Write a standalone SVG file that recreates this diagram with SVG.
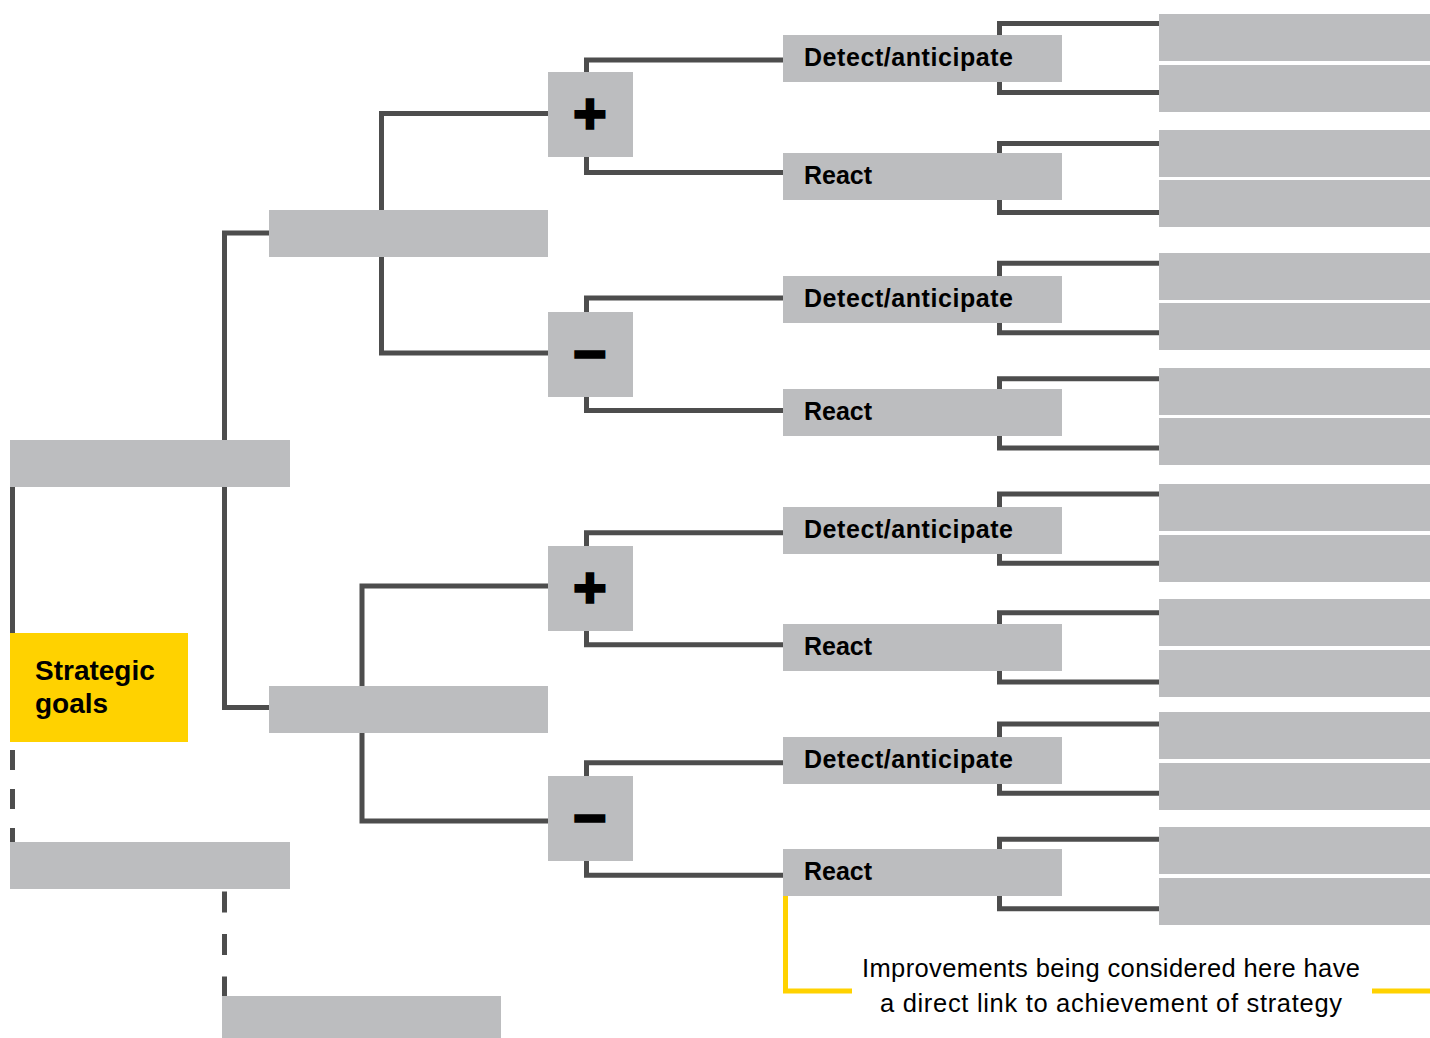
<svg xmlns="http://www.w3.org/2000/svg" width="1430" height="1038" viewBox="0 0 1430 1038">
<style>
.box{fill:#bcbdbf}
.goal{fill:#ffd200}
.ln{fill:none;stroke:#4d4d4d;stroke-width:5;stroke-linecap:butt;stroke-linejoin:miter}
.dash1{stroke-dasharray:20 19}
.dash2{stroke-dasharray:21 21.5}
.ann{fill:none;stroke:#ffd200;stroke-width:5}
.lbl{font-family:"Liberation Sans",Arial,sans-serif;font-weight:bold;font-size:25px;fill:#000}
.goalt{font-family:"Liberation Sans",Arial,sans-serif;font-weight:bold;font-size:28px;fill:#000}
.sign{font-family:"DejaVu Sans",sans-serif;font-weight:bold;font-size:44px;fill:#000;stroke:#000;stroke-width:3.5;text-anchor:middle}
.note{font-family:"Liberation Sans",Arial,sans-serif;font-size:25.5px;fill:#000;text-anchor:middle}
</style>
<rect width="1430" height="1038" fill="#fff"/>
<g id="connectors">
<path class="ln" d="M269 233 H224.5 V707.5 H269"/>
<path class="ln" d="M12.5 487 V633"/>
<path class="ln dash1" d="M12.5 750 V842"/>
<path class="ln dash2" d="M224.5 891.5 V996"/>
<path class="ln" d="M548 113.5 H381.5 V353 H548"/>
<path class="ln" d="M548 586 H362 V821 H548"/>
<path class="ln" d="M783 60 H586.5 V72 M783 172.5 H586.5 V157"/>
<path class="ln" d="M783 298 H586.5 V312 M783 410.5 H586.5 V397"/>
<path class="ln" d="M783 532.7 H586.5 V546 M783 644.7 H586.5 V631"/>
<path class="ln" d="M783 762.7 H586.5 V776 M783 875.3 H586.5 V861"/>
<path class="ln" d="M1159 23.5 H999.5 V92.5 H1159"/>
<path class="ln" d="M1159 143.5 H999.5 V212.5 H1159"/>
<path class="ln" d="M1159 263.3 H999.5 V332.7 H1159"/>
<path class="ln" d="M1159 378.7 H999.5 V448 H1159"/>
<path class="ln" d="M1159 494 H999.5 V563.3 H1159"/>
<path class="ln" d="M1159 612.7 H999.5 V682 H1159"/>
<path class="ln" d="M1159 724 H999.5 V793.3 H1159"/>
<path class="ln" d="M1159 839.3 H999.5 V908.7 H1159"/>
<path class="ann" d="M785.5 896 V991 H852 M1372 991 H1430"/>
</g>
<g id="node-a"><rect class="box" x="10" y="440" width="280" height="47"/></g>
<g id="node-strategic-goals"><rect class="goal" x="10" y="633" width="178" height="109"/>
<text class="goalt" x="35" y="680">Strategic</text><text class="goalt" x="35" y="713">goals</text></g>
<g id="node-c"><rect class="box" x="10" y="842" width="280" height="47"/></g>
<g id="node-d"><rect class="box" x="222" y="996" width="279" height="42"/></g>
<g id="node-b1"><rect class="box" x="269" y="210" width="279" height="47"/></g>
<g id="node-b2"><rect class="box" x="269" y="686" width="279" height="47"/></g>
<g id="node-plus1"><rect class="box" x="548" y="72" width="85" height="85"/><text class="sign" x="590" y="128">+</text></g>
<g id="node-minus1"><rect class="box" x="548" y="312" width="85" height="85"/><text class="sign" x="590" y="368">−</text></g>
<g id="node-plus2"><rect class="box" x="548" y="546" width="85" height="85"/><text class="sign" x="590" y="602">+</text></g>
<g id="node-minus2"><rect class="box" x="548" y="776" width="85" height="85"/><text class="sign" x="590" y="832">−</text></g>
<g id="node-detect1"><rect class="box" x="783" y="35" width="279" height="47"/><text class="lbl" x="804" y="66" textLength="209" lengthAdjust="spacing">Detect/anticipate</text></g>
<g id="node-react1"><rect class="box" x="783" y="153" width="279" height="47"/><text class="lbl" x="804" y="184">React</text></g>
<g id="node-detect2"><rect class="box" x="783" y="276" width="279" height="47"/><text class="lbl" x="804" y="307" textLength="209" lengthAdjust="spacing">Detect/anticipate</text></g>
<g id="node-react2"><rect class="box" x="783" y="389" width="279" height="47"/><text class="lbl" x="804" y="420">React</text></g>
<g id="node-detect3"><rect class="box" x="783" y="507" width="279" height="47"/><text class="lbl" x="804" y="538" textLength="209" lengthAdjust="spacing">Detect/anticipate</text></g>
<g id="node-react3"><rect class="box" x="783" y="624" width="279" height="47"/><text class="lbl" x="804" y="655">React</text></g>
<g id="node-detect4"><rect class="box" x="783" y="737" width="279" height="47"/><text class="lbl" x="804" y="768" textLength="209" lengthAdjust="spacing">Detect/anticipate</text></g>
<g id="node-react4"><rect class="box" x="783" y="849" width="279" height="47"/><text class="lbl" x="804" y="880">React</text></g>
<g id="node-r1a"><rect class="box" x="1159" y="14" width="271" height="47"/></g>
<g id="node-r1b"><rect class="box" x="1159" y="65" width="271" height="47"/></g>
<g id="node-r2a"><rect class="box" x="1159" y="130" width="271" height="47"/></g>
<g id="node-r2b"><rect class="box" x="1159" y="180" width="271" height="47"/></g>
<g id="node-r3a"><rect class="box" x="1159" y="253" width="271" height="47"/></g>
<g id="node-r3b"><rect class="box" x="1159" y="303" width="271" height="47"/></g>
<g id="node-r4a"><rect class="box" x="1159" y="368" width="271" height="47"/></g>
<g id="node-r4b"><rect class="box" x="1159" y="418" width="271" height="47"/></g>
<g id="node-r5a"><rect class="box" x="1159" y="484" width="271" height="47"/></g>
<g id="node-r5b"><rect class="box" x="1159" y="535" width="271" height="47"/></g>
<g id="node-r6a"><rect class="box" x="1159" y="599" width="271" height="47"/></g>
<g id="node-r6b"><rect class="box" x="1159" y="650" width="271" height="47"/></g>
<g id="node-r7a"><rect class="box" x="1159" y="712" width="271" height="47"/></g>
<g id="node-r7b"><rect class="box" x="1159" y="763" width="271" height="47"/></g>
<g id="node-r8a"><rect class="box" x="1159" y="827" width="271" height="47"/></g>
<g id="node-r8b"><rect class="box" x="1159" y="878" width="271" height="47"/></g>
<g id="annotation">
<text class="note" x="1111" y="977" textLength="498" lengthAdjust="spacing">Improvements being considered here have</text>
<text class="note" x="1111" y="1012" textLength="462" lengthAdjust="spacing">a direct link to achievement of strategy</text>
</g>
</svg>
